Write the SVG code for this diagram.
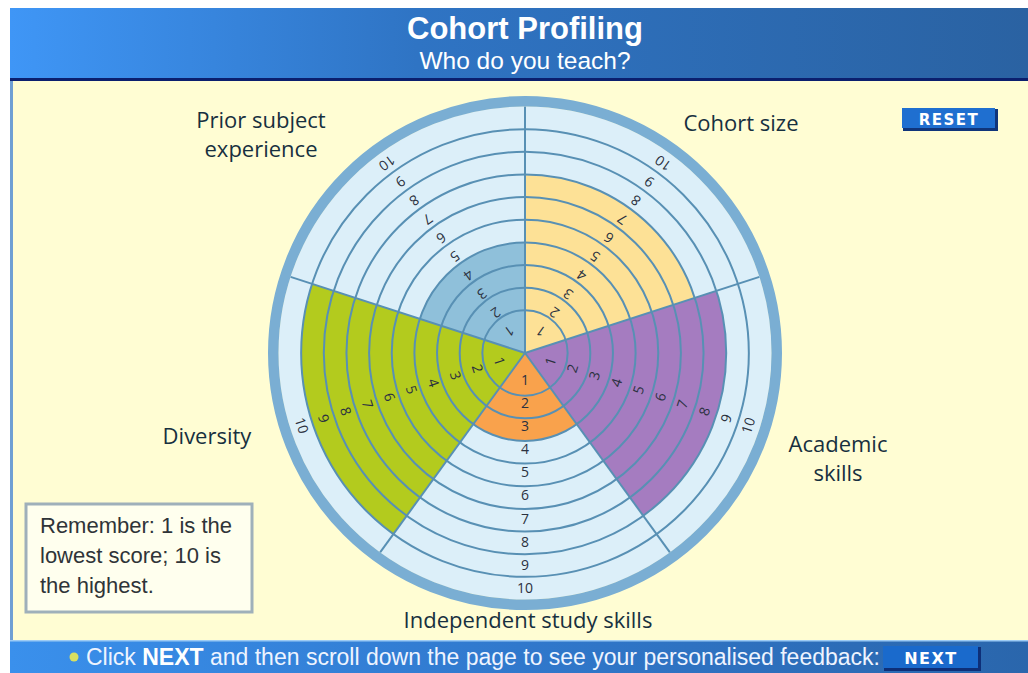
<svg xmlns="http://www.w3.org/2000/svg" width="1028" height="673" viewBox="0 0 1028 673">
<defs>
<linearGradient id="hdr" x1="0" y1="0" x2="1" y2="0">
<stop offset="0" stop-color="#3F96F6"/>
<stop offset="0.4" stop-color="#2F74C4"/>
<stop offset="1" stop-color="#2A62A2"/>
</linearGradient>
<linearGradient id="ftr" x1="0" y1="0" x2="1" y2="0">
<stop offset="0" stop-color="#3A90EC"/>
<stop offset="0.5" stop-color="#3078CC"/>
<stop offset="1" stop-color="#2A66AC"/>
</linearGradient>
<style>
.ring{fill:none;stroke:#5890B4;stroke-width:2}
.spoke{stroke:#5890B4;stroke-width:2}
.n{font-family:"Open Sans","Noto Sans",sans-serif;font-size:14px;fill:#2B3140;text-anchor:middle}
.ax{font-family:"Open Sans","Noto Sans",sans-serif;font-size:22px;fill:#17303F;text-anchor:middle}
.note{font-family:"Liberation Sans",Arial,sans-serif;font-size:22px;fill:#2F3438}
.btn{font-family:"DejaVu Sans",Verdana,sans-serif;font-weight:bold;fill:#FFFFFF;text-anchor:middle;letter-spacing:1.5px}
</style>
</defs>
<rect x="0" y="0" width="1028" height="673" fill="#FFFFFF"/>
<g id="panel">
<rect x="10" y="81" width="1018" height="560" fill="#FFFDD3"/>
<rect x="10" y="81" width="3" height="560" fill="#6F9FD3"/>
</g>
<g id="header">
<rect x="10" y="8" width="1018" height="71" fill="url(#hdr)"/>
<rect x="10" y="78" width="1018" height="3" fill="#0B1F6E"/>
<text x="525" y="39" font-family="'Liberation Sans',Arial,sans-serif" font-size="31" font-weight="bold" fill="#FFFFFF" text-anchor="middle">Cohort Profiling</text>
<text x="525" y="69" font-family="'Liberation Sans',Arial,sans-serif" font-size="24.5" fill="#FFFFFF" text-anchor="middle">Who do you teach?</text>
</g>
<g id="chart">
<circle cx="525" cy="353" r="246.5" fill="#DCEFF9"/>
<g id="sector-cohort-size">
<path d="M525,353 L525,174.45 A178.55,178.55 0 0 1 694.81,297.82 Z" fill="#FDE196"/>
</g>
<g id="sector-academic-skills">
<path d="M525,353 L716.35,290.83 A201.2,201.2 0 0 1 643.26,515.77 Z" fill="#A57CC0"/>
</g>
<g id="sector-independent-study-skills">
<path d="M525,353 L576.69,424.15 A87.95,87.95 0 0 1 473.31,424.15 Z" fill="#F9A24C"/>
</g>
<g id="sector-diversity">
<path d="M525,353 L393.42,534.10 A223.85,223.85 0 0 1 312.10,283.83 Z" fill="#B3CB1E"/>
</g>
<g id="sector-prior-subject-experience">
<path d="M525,353 L419.81,318.82 A110.6,110.6 0 0 1 525,242.4 Z" fill="#8FC0DA"/>
</g>
<g id="rings">
<circle class="ring" cx="525" cy="353" r="42.65"/>
<circle class="ring" cx="525" cy="353" r="65.3"/>
<circle class="ring" cx="525" cy="353" r="87.95"/>
<circle class="ring" cx="525" cy="353" r="110.6"/>
<circle class="ring" cx="525" cy="353" r="133.25"/>
<circle class="ring" cx="525" cy="353" r="155.9"/>
<circle class="ring" cx="525" cy="353" r="178.55"/>
<circle class="ring" cx="525" cy="353" r="201.2"/>
<circle class="ring" cx="525" cy="353" r="223.85"/>
</g>
<g id="connectors">
<line class="spoke" x1="525" y1="353" x2="525" y2="106.5"/>
<line class="spoke" x1="525" y1="353" x2="759.44" y2="276.83"/>
<line class="spoke" x1="525" y1="353" x2="669.89" y2="552.42"/>
<line class="spoke" x1="525" y1="353" x2="380.11" y2="552.42"/>
<line class="spoke" x1="525" y1="353" x2="290.56" y2="276.83"/>
</g>
<circle cx="525" cy="353" r="251.75" fill="none" stroke="#7AAED3" stroke-width="10.5"/>
<g id="labels-cohort-size" transform="translate(525 353) rotate(36)">
<text class="n" dy=".35em" transform="translate(0 -27) rotate(180)">1</text>
<text class="n" dy=".35em" transform="translate(0 -50.1) rotate(180)">2</text>
<text class="n" dy=".35em" transform="translate(0 -73.2) rotate(180)">3</text>
<text class="n" dy=".35em" transform="translate(0 -96.3) rotate(180)">4</text>
<text class="n" dy=".35em" transform="translate(0 -119.4) rotate(180)">5</text>
<text class="n" dy=".35em" transform="translate(0 -142.5) rotate(180)">6</text>
<text class="n" dy=".35em" transform="translate(0 -165.6) rotate(180)">7</text>
<text class="n" dy=".35em" transform="translate(0 -188.7) rotate(180)">8</text>
<text class="n" dy=".35em" transform="translate(0 -211.8) rotate(180)">9</text>
<text class="n" dy=".35em" transform="translate(0 -234.9) rotate(180)">10</text>
</g>
<g id="labels-academic-skills" transform="translate(525 353) rotate(108)">
<text class="n" dy=".35em" transform="translate(0 -27) rotate(180)">1</text>
<text class="n" dy=".35em" transform="translate(0 -50.1) rotate(180)">2</text>
<text class="n" dy=".35em" transform="translate(0 -73.2) rotate(180)">3</text>
<text class="n" dy=".35em" transform="translate(0 -96.3) rotate(180)">4</text>
<text class="n" dy=".35em" transform="translate(0 -119.4) rotate(180)">5</text>
<text class="n" dy=".35em" transform="translate(0 -142.5) rotate(180)">6</text>
<text class="n" dy=".35em" transform="translate(0 -165.6) rotate(180)">7</text>
<text class="n" dy=".35em" transform="translate(0 -188.7) rotate(180)">8</text>
<text class="n" dy=".35em" transform="translate(0 -211.8) rotate(180)">9</text>
<text class="n" dy=".35em" transform="translate(0 -234.9) rotate(180)">10</text>
</g>
<g id="labels-independent-study-skills" transform="translate(525 353) rotate(180)">
<text class="n" dy=".35em" transform="translate(0 -27) rotate(180)">1</text>
<text class="n" dy=".35em" transform="translate(0 -50.1) rotate(180)">2</text>
<text class="n" dy=".35em" transform="translate(0 -73.2) rotate(180)">3</text>
<text class="n" dy=".35em" transform="translate(0 -96.3) rotate(180)">4</text>
<text class="n" dy=".35em" transform="translate(0 -119.4) rotate(180)">5</text>
<text class="n" dy=".35em" transform="translate(0 -142.5) rotate(180)">6</text>
<text class="n" dy=".35em" transform="translate(0 -165.6) rotate(180)">7</text>
<text class="n" dy=".35em" transform="translate(0 -188.7) rotate(180)">8</text>
<text class="n" dy=".35em" transform="translate(0 -211.8) rotate(180)">9</text>
<text class="n" dy=".35em" transform="translate(0 -234.9) rotate(180)">10</text>
</g>
<g id="labels-diversity" transform="translate(525 353) rotate(252)">
<text class="n" dy=".35em" transform="translate(0 -27) rotate(180)">1</text>
<text class="n" dy=".35em" transform="translate(0 -50.1) rotate(180)">2</text>
<text class="n" dy=".35em" transform="translate(0 -73.2) rotate(180)">3</text>
<text class="n" dy=".35em" transform="translate(0 -96.3) rotate(180)">4</text>
<text class="n" dy=".35em" transform="translate(0 -119.4) rotate(180)">5</text>
<text class="n" dy=".35em" transform="translate(0 -142.5) rotate(180)">6</text>
<text class="n" dy=".35em" transform="translate(0 -165.6) rotate(180)">7</text>
<text class="n" dy=".35em" transform="translate(0 -188.7) rotate(180)">8</text>
<text class="n" dy=".35em" transform="translate(0 -211.8) rotate(180)">9</text>
<text class="n" dy=".35em" transform="translate(0 -234.9) rotate(180)">10</text>
</g>
<g id="labels-prior-subject-experience" transform="translate(525 353) rotate(324)">
<text class="n" dy=".35em" transform="translate(0 -27) rotate(180)">1</text>
<text class="n" dy=".35em" transform="translate(0 -50.1) rotate(180)">2</text>
<text class="n" dy=".35em" transform="translate(0 -73.2) rotate(180)">3</text>
<text class="n" dy=".35em" transform="translate(0 -96.3) rotate(180)">4</text>
<text class="n" dy=".35em" transform="translate(0 -119.4) rotate(180)">5</text>
<text class="n" dy=".35em" transform="translate(0 -142.5) rotate(180)">6</text>
<text class="n" dy=".35em" transform="translate(0 -165.6) rotate(180)">7</text>
<text class="n" dy=".35em" transform="translate(0 -188.7) rotate(180)">8</text>
<text class="n" dy=".35em" transform="translate(0 -211.8) rotate(180)">9</text>
<text class="n" dy=".35em" transform="translate(0 -234.9) rotate(180)">10</text>
</g>
</g>
<g id="axis-prior-subject-experience">
<text class="ax" x="261" y="128">Prior subject</text>
<text class="ax" x="261" y="157">experience</text>
</g>
<g id="axis-cohort-size"><text class="ax" x="741" y="131">Cohort size</text></g>
<g id="axis-academic-skills">
<text class="ax" x="838" y="452">Academic</text>
<text class="ax" x="838" y="481">skills</text>
</g>
<g id="axis-diversity"><text class="ax" x="207" y="444">Diversity</text></g>
<g id="axis-independent-study-skills"><text class="ax" x="528" y="628">Independent study skills</text></g>
<g id="note">
<rect x="26" y="504" width="226" height="108" fill="#FFFFEE" stroke="#9FB0BA" stroke-width="3"/>
<text class="note" x="40" y="533">Remember: 1 is the</text>
<text class="note" x="40" y="563">lowest score; 10 is</text>
<text class="note" x="40" y="593">the highest.</text>
</g>
<g id="reset-button">
<rect x="903" y="109" width="95" height="22" fill="#10357A"/>
<rect x="902" y="108" width="93" height="20" fill="#1F6FD0"/>
<text class="btn" x="949" y="125" font-size="15">RESET</text>
</g>
<g id="footer">
<rect x="10" y="640" width="1018" height="33" fill="url(#ftr)"/>
<rect x="10" y="640" width="1018" height="1.5" fill="#9CCBF5"/>
<circle cx="74" cy="657" r="4.5" fill="#D8E060"/>
<text x="86" y="665" font-family="'Liberation Sans',Arial,sans-serif" font-size="23" fill="#EEF4FF">Click <tspan font-weight="bold" fill="#FFFFFF">NEXT</tspan> and then scroll down the page to see your personalised feedback:</text>
</g>
<g id="next-button">
<rect x="884" y="647" width="97" height="24" fill="#0E2F78"/>
<rect x="883" y="646" width="95" height="22" fill="#1A6ACC"/>
<text class="btn" x="931" y="664" font-size="16">NEXT</text>
</g>
</svg>
